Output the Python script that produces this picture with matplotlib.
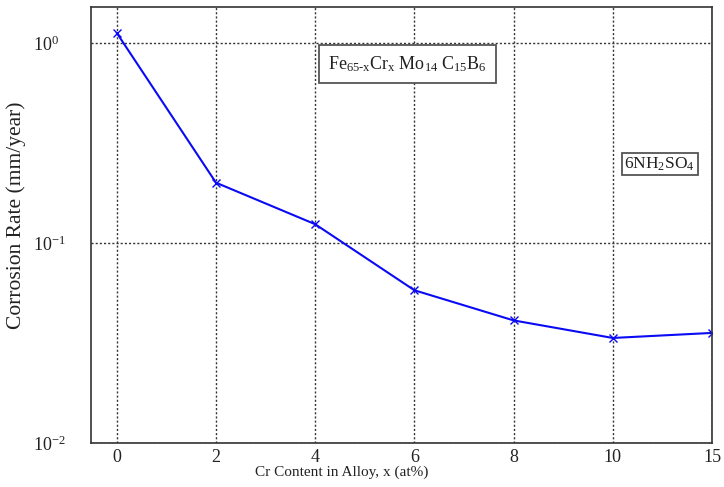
import numpy as np
import matplotlib
matplotlib.use("Agg")
from matplotlib import pyplot as plt
from matplotlib.ticker import FixedLocator, FixedFormatter, NullLocator

plt.rcParams['font.family'] = ['Liberation Serif', 'DejaVu Serif']
plt.rcParams['mathtext.fontset'] = 'custom'
plt.rcParams['mathtext.rm'] = 'Liberation Serif'
plt.rcParams['mathtext.it'] = 'Liberation Serif:italic'
plt.rcParams['mathtext.default'] = 'regular'

# Cr content categories (evenly spaced on the axis) and measured corrosion rates
cr_labels = ["0", "2", "4", "6", "8", "10", "15"]
corrosion_rate = [1.12, 0.20, 0.124, 0.058, 0.041, 0.0335, 0.0355]
y_ticks = [0.01, 0.1, 1.0]
y_tick_labels = [r"$10^{-2}$", r"$10^{-1}$", r"$10^{0}$"]

fig = plt.figure(figsize=(7.24, 4.87), dpi=100)
ax = fig.add_axes([0.1257, 0.0903, 0.8577, 0.8953])

x = np.arange(len(cr_labels))
ax.plot(x, corrosion_rate, color='#0a0af5', linewidth=1.5, marker='x', markersize=6, markeredgewidth=1.0)

ax.set_yscale('log')
ax.set_ylim(0.01, 1.51)
ax.set_xlim(-0.26, 6)
ax.yaxis.set_major_locator(FixedLocator(y_ticks))
ax.yaxis.set_major_formatter(FixedFormatter(y_tick_labels))
ax.yaxis.set_minor_locator(NullLocator())
ax.set_xticks(x)
ax.set_xticklabels(cr_labels)
ax.tick_params(length=0, labelsize=13, colors='#222222')
ax.tick_params(axis='x', pad=4.5)
# pad is in points; left-aligned tick labels start about 58 px left of the axis
ax.tick_params(axis='y', pad=42)
for lbl in ax.get_yticklabels():
    lbl.set_horizontalalignment('left')

ax.grid(True, which='major', color='#333333', linestyle=(0, (1.5, 1.5)), linewidth=1.0)

for s in ax.spines.values():
    s.set_color('#333333')
    s.set_linewidth(1.2)

ax.set_xlabel("Cr Content in Alloy, x (at%)", fontsize=11, color='#222222')
ax.xaxis.set_label_coords(0.404, -0.052)
ax.set_ylabel("Corrosion Rate (mm/year)", fontsize=15.5, color='#222222')
ax.yaxis.set_label_coords(-0.105, 0.523)

ax.text(0.51, 0.869, r"$Fe_{65\text{-}x}Cr_{x}\ Mo_{14}\ C_{15}B_{6}$",
        transform=ax.transAxes, ha='center', va='center', fontsize=13, color='#222222',
        bbox=dict(boxstyle='square,pad=0.5', facecolor='white', edgecolor='#555555', linewidth=1.3))
ax.text(0.916, 0.640, r"$6NH_{2}SO_{4}$",
        transform=ax.transAxes, ha='center', va='center', fontsize=12.5, color='#222222',
        bbox=dict(boxstyle='square,pad=0.15', facecolor='white', edgecolor='#555555', linewidth=1.3))

fig.savefig("out.png", dpi=100)
